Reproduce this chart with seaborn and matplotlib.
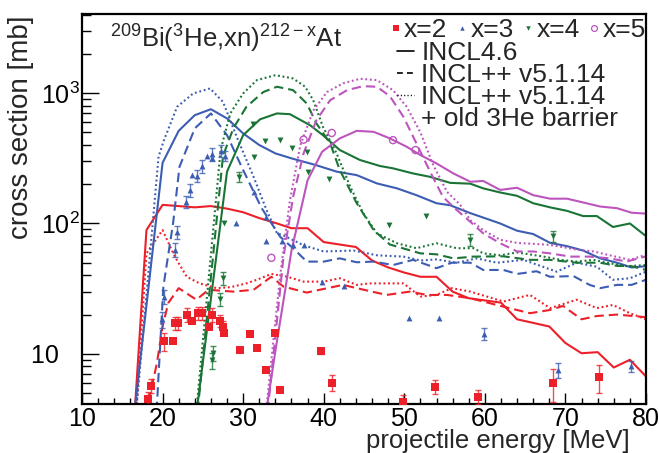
import numpy as np
import pandas as pd
import matplotlib
matplotlib.use("Agg")
import matplotlib.pyplot as plt
import seaborn as sns
from matplotlib.ticker import FixedLocator, FuncFormatter, MultipleLocator, LogLocator, NullFormatter
from matplotlib.lines import Line2D

# ---------------- data ----------------
# model curves: energy [MeV], cross section [mb]
x2_incl46_e = [16.0, 18.0, 20.0, 24.0, 26.0, 28.0, 30.0, 32.0, 34.0, 36.0, 38.0, 40.0, 44.0, 46.0, 48.0,
               50.0, 52.0, 54.0, 56.0, 58.0, 62.0, 64.0, 68.0, 70.0, 72.0, 74.0, 76.0, 78.0, 80.0]
x2_incl46_s = [1.1, 89, 139, 133, 136, 130, 122, 110, 101, 92, 92, 72, 66, 52, 46,
               42, 39, 39, 30, 26.7, 24.7, 18.4, 16.2, 12.1, 10.1, 10.3, 7.85, 9.0, 6.7]
x2_inclpp_e = [17.5, 19.3, 20.0, 20.7, 22.0, 24.2, 25.7, 28.8, 31.3, 33.5, 35.0, 37.9, 39.5, 42.4,
               44.1, 47.8, 50.7, 52.8, 55.3, 58.2, 62.3, 65.6, 68.1, 69.7, 72.0, 73.9, 76.4, 80.0]
x2_inclpp_s = [2.6, 8.5, 16.2, 24.5, 31.9, 26, 31, 30, 31, 39, 32.8, 29.5, 31, 33.8,
               31.9, 28.3, 30, 28.3, 28.3, 26.7, 23, 20.5, 21.7, 23.3, 18.4, 19.5, 20, 19.1]
x2_old_e = [16.4, 18.0, 20.0, 21.5, 23.0, 24.6, 26.7, 28.5, 30.4, 31.7, 33.5, 35.5, 37.5, 40.0, 42.0,
            44.1, 45.7, 49.9, 52.0, 54.0, 55.9, 58.2, 62.3, 65.6, 68.1, 71.4, 73.9, 75.9, 78.0, 80.0]
x2_old_s = [1.7, 59, 89, 56, 39, 34.7, 31.9, 32.5, 34.7, 37, 41, 39, 35.8, 35.8, 38,
            33.8, 34.7, 34.7, 27.5, 28.3, 31.9, 30, 25.2, 28.3, 22.4, 26, 22.4, 23.7, 20.5, 18.4]

x3_incl46_e = [16.0, 20.0, 22.0, 24.0, 26.0, 28.0, 30.0, 32.0, 34.0, 36.0, 39.0, 41.6, 44.1, 46.6, 49.1,
               51.5, 54.0, 55.7, 58.2, 59.8, 61.9, 64.0, 66.0, 68.1, 70.2, 72.2, 74.3, 76.4, 78.2, 80.0]
x3_incl46_s = [1.9, 292, 514, 678, 753, 640, 491, 400, 345, 316, 281, 250, 235, 203, 186,
               165, 143, 138, 120, 111, 100, 88, 83, 71, 67, 62, 54, 50, 46, 47]
x3_inclpp_e = [18.5, 20.1, 21.3, 22.1, 24.0, 26.0, 28.0, 30.0, 32.3, 34.6, 36.2, 37.9, 40.0, 42.0, 44.1, 46.2,
               48.6, 51.1, 54.0, 55.9, 58.2, 59.8, 62.3, 64.0, 66.4, 68.1, 71.0, 73.0, 74.3, 76.4, 78.2, 80.0]
x3_inclpp_s = [0.5, 32.8, 100, 272, 537, 699, 476, 257, 131, 79, 64.6, 51, 51, 54, 50.4, 51,
               48, 52.6, 45.4, 50, 50, 44, 44, 41, 43, 39, 39.5, 33.8, 31.9, 33.8, 33.8, 37]
x3_old_e = [16.3, 19.5, 20.1, 21.8, 23.8, 25.9, 27.5, 29.2, 31.3, 32.9, 34.2, 35.0, 37.5, 40.0, 43.7,
            46.6, 49.9, 52.0, 54.0, 56.5, 59.0, 61.5, 64.8, 68.9, 71.4, 73.9, 75.9, 78.0, 80.0]
x3_old_s = [1.8, 325, 424, 785, 995, 1087, 857, 462, 228, 127, 84, 81, 68, 61, 62,
            57, 55.7, 52, 53, 50, 54, 50, 52.6, 42.7, 50, 46.6, 37, 38, 42.7]

x4_incl46_e = [24.0, 28.0, 30.0, 32.1, 34.2, 35.8, 38.3, 39.9, 42.0, 44.5, 47.0, 48.6, 51.1, 53.2, 55.7,
               58.2, 59.8, 61.9, 64.0, 66.0, 68.1, 70.2, 72.2, 73.9, 75.9, 78.0, 80.0]
x4_incl46_s = [2.8, 250, 476, 630, 699, 690, 568, 476, 366, 307, 276, 265, 242, 228, 205,
               202, 186, 173, 163, 143, 133, 125, 114, 114, 94, 100, 80]
x4_inclpp_e = [24.0, 27.5, 28.8, 30.4, 32.5, 34.2, 36.2, 37.9, 39.1, 40.8, 42.0, 44.1, 46.2, 48.2, 52.0,
               54.0, 56.1, 58.6, 62.3, 65.6, 68.1, 71.4, 74.3, 76.4, 78.2, 80.0]
x4_inclpp_s = [2.2, 330, 540, 785, 1020, 1120, 1055, 833, 586, 411, 257, 143, 89, 69, 59,
               58, 54, 55.7, 56, 52.6, 52.6, 50, 50, 47.3, 47, 44]
x4_old_e = [23.8, 27.2, 28.4, 30.0, 31.7, 34.0, 36.2, 37.7, 38.7, 39.9, 41.6, 43.3, 44.9, 46.6, 49.1,
            51.5, 54.0, 56.5, 58.6, 59.8, 61.9, 64.0, 67.3, 69.4, 71.4, 73.5, 75.1, 77.6, 80.0]
x4_old_s = [2.0, 366, 699, 995, 1259, 1374, 1297, 1120, 883, 552, 345, 191, 120, 84, 70.5,
            64.6, 70.5, 64.6, 64.6, 59, 57, 60, 55.7, 52.6, 51, 52.6, 50, 47, 48]

x5_incl46_e = [32.0, 34.0, 36.0, 38.0, 39.8, 42.0, 44.1, 46.2, 48.2, 50.3, 52.0, 54.0, 56.1, 58.2, 59.8,
               61.9, 64.0, 66.0, 68.1, 70.2, 72.2, 74.3, 76.4, 78.2, 80.0]
x5_incl46_s = [1.6, 10.5, 62, 215, 355, 450, 514, 505, 450, 388, 335, 289, 242, 209, 212,
               181, 188, 165, 155, 155, 145, 135, 131, 121, 119]
x5_inclpp_e = [32.0, 33.2, 35.0, 36.2, 37.5, 39.1, 40.8, 42.9, 44.9, 46.6, 48.2, 49.9, 51.5, 53.2, 54.8,
               56.5, 58.2, 59.8, 61.9, 64.0, 66.0, 68.1, 70.6, 73.0, 75.5, 77.6, 80.0]
x5_inclpp_s = [1.0, 4.5, 55, 160, 345, 621, 883, 1055, 1132, 1120, 950, 658, 412, 250, 160,
               127, 103, 84, 70.5, 61, 61, 59, 55.7, 55.7, 54, 51, 56]
x5_old_e = [32.0, 33.0, 34.6, 35.8, 37.1, 38.7, 40.4, 42.4, 44.5, 46.6, 48.6, 50.3, 52.0, 53.6, 55.3,
            56.9, 58.2, 59.8, 61.9, 64.0, 68.1, 71.4, 73.5, 75.5, 78.0, 80.0]
x5_old_s = [1.0, 4.5, 40, 150, 400, 735, 1020, 1190, 1290, 1259, 1055, 785, 500, 280, 175,
            140, 106, 89, 75, 71, 68.5, 63, 61, 57, 52.6, 57.5]

# experimental data
x2_e = [18.2, 18.6, 20.2, 21.3, 21.5, 21.9, 23.0, 23.6, 24.4, 24.9, 25.8, 26.1, 27.1, 27.5, 27.6,
        29.6, 30.9, 31.7, 32.8, 34.0, 34.6, 39.7, 41.0, 49.9, 53.8, 59.2, 68.5, 74.2]
x2_s = [4.5, 5.7, 12.5, 12.6, 17.2, 17.2, 19.9, 17.7, 20.5, 20.5, 16.2, 19.9, 18.0, 16.2, 14.4,
        10.7, 14.2, 11.1, 7.5, 14.4, 5.3, 10.5, 6.0, 4.3, 5.6, 4.7, 6.0, 6.6]
x2_err = [0.55, 0.7, 1.9, 0, 2.0, 2.0, 2.4, 0, 2.4, 2.4, 0, 2.4, 1.8, 1.6, 0,
          0, 0, 0, 0, 0, 0, 0.5, 0.85, 0.5, 0.65, 0.55, 1.7, 1.6]

x3_e = [19.9, 20.2, 21.5, 21.8, 22.9, 23.4, 23.6, 24.3, 24.9, 25.5, 26.1, 26.1, 27.2, 27.7, 29.1,
        31.3, 32.8, 32.8, 34.8, 36.2, 37.6, 39.8, 42.5, 50.6, 54.3, 59.9, 69.1, 78.1]
x3_s = [18.4, 27.5, 63, 86, 147, 181, 235, 233, 276, 329, 339, 320, 361, 329, 100,
        175, 113, 73.5, 74, 68, 68, 35.8, 33, 18.8, 18.8, 14.2, 7.5, 8.0]
x3_err = [2.5, 3.5, 8, 10, 15, 20, 0, 25, 30, 0, 40, 0, 40, 30, 0,
          0, 0, 0, 0, 0, 0, 0, 0, 0, 0, 1.5, 1.0, 0.8]

x4_e = [26.1, 26.2, 27.1, 27.5, 27.6, 29.5, 31.2, 31.3, 32.7, 34.6, 36.1, 37.9, 38.1, 40.6, 48.1, 52.7, 58.2, 68.4]
x4_s = [8.9, 10.1, 26.3, 38, 100, 228, 575, 325, 430, 441, 381, 355, 250, 218, 98, 115, 75, 80]
x4_err = [1.2, 1.3, 3, 4.5, 0, 20, 0, 0, 0, 0, 0, 0, 0, 0, 0, 0, 8, 8]

x5_e = [33.5, 37.5, 41.0, 48.6, 51.4]
x5_s = [54.5, 440, 495, 436, 366]

channels = ["x=2", "x=3", "x=4", "x=5"]
models = ["INCL4.6", "INCL++ v5.1.14", "INCL++ v5.1.14 + old 3He barrier"]
colors = {"x=2": "#ec2028", "x=3": "#3c5db2", "x=4": "#1a7436", "x=5": "#bc55bd"}

curves = {
    ("x=2", models[0]): (x2_incl46_e, x2_incl46_s),
    ("x=2", models[1]): (x2_inclpp_e, x2_inclpp_s),
    ("x=2", models[2]): (x2_old_e, x2_old_s),
    ("x=3", models[0]): (x3_incl46_e, x3_incl46_s),
    ("x=3", models[1]): (x3_inclpp_e, x3_inclpp_s),
    ("x=3", models[2]): (x3_old_e, x3_old_s),
    ("x=4", models[0]): (x4_incl46_e, x4_incl46_s),
    ("x=4", models[1]): (x4_inclpp_e, x4_inclpp_s),
    ("x=4", models[2]): (x4_old_e, x4_old_s),
    ("x=5", models[0]): (x5_incl46_e, x5_incl46_s),
    ("x=5", models[1]): (x5_inclpp_e, x5_inclpp_s),
    ("x=5", models[2]): (x5_old_e, x5_old_s),
}
rows = []
for (ch, mod), (ee, ss) in curves.items():
    for a, b in zip(ee, ss):
        rows.append((ch, mod, a, b))
df = pd.DataFrame(rows, columns=["channel", "model", "energy", "xs"])

# ---------------- style ----------------
sns.set_theme(style="ticks")
plt.rcParams["font.family"] = ["Liberation Sans", "DejaVu Sans"]
plt.rcParams["mathtext.fontset"] = "custom"
plt.rcParams["mathtext.rm"] = "Liberation Sans"
plt.rcParams["mathtext.it"] = "Liberation Sans"
plt.rcParams["mathtext.default"] = "regular"
plt.rcParams["axes.linewidth"] = 1.6
plt.rcParams["axes.edgecolor"] = "black"

fig = plt.figure(figsize=(6.59, 4.53), dpi=100)
fig.patch.set_facecolor("white")
ax = fig.add_axes([82 / 659, 1 - 404 / 453, 564 / 659, 390 / 453])
ax.set_facecolor("white")

dash_map = {models[0]: "", models[1]: (4.5, 2.4), models[2]: (0.9, 1.3)}
sns.lineplot(data=df, x="energy", y="xs", hue="channel", style="model",
             palette=colors, dashes=dash_map, estimator=None, sort=False,
             linewidth=1.5, legend=False, ax=ax, zorder=2)


def draw_errors(e, s, err, col):
    e, s, err = np.asarray(e), np.asarray(s), np.asarray(err)
    m = err > 0
    ax.errorbar(e[m], s[m], yerr=err[m], fmt="none", ecolor=col, elinewidth=1.0,
                capsize=2.5, capthick=1.0, alpha=0.8, zorder=3)


draw_errors(x2_e, x2_s, x2_err, colors["x=2"])
draw_errors(x3_e, x3_s, x3_err, colors["x=3"])
draw_errors(x4_e, x4_s, x4_err, colors["x=4"])
sns.scatterplot(x=x2_e, y=x2_s, marker="s", s=26, color=colors["x=2"], linewidth=0, ax=ax, zorder=4)
sns.scatterplot(x=x3_e, y=x3_s, marker="^", s=18, color=colors["x=3"], linewidth=0, ax=ax, zorder=4)
sns.scatterplot(x=x4_e, y=x4_s, marker="v", s=18, color=colors["x=4"], linewidth=0, ax=ax, zorder=4)
sns.scatterplot(x=x5_e, y=x5_s, marker="o", s=26, facecolor="none", edgecolor=colors["x=5"], linewidth=1.0, ax=ax, zorder=4)

# axes
ax.set_yscale("log")
ax.set_xlim(10, 80)
ax.set_ylim(4.12, 4050)
ax.xaxis.set_major_locator(MultipleLocator(10))
ax.xaxis.set_minor_locator(MultipleLocator(2))
ax.yaxis.set_major_locator(FixedLocator([10, 100, 1000]))
ax.yaxis.set_major_formatter(FuncFormatter(
    lambda v, p: {10: "10   ", 100: "10$^{2}$", 1000: "10$^{3}$"}.get(int(round(v)), "")))
ax.yaxis.set_minor_locator(LogLocator(base=10, subs=np.arange(2, 10), numticks=30))
ax.yaxis.set_minor_formatter(NullFormatter())

ax.tick_params(axis="both", which="both", direction="in", top=False, right=False,
               bottom=True, left=True, color="black", width=1.0, labelcolor="black")
ax.tick_params(axis="y", which="major", length=12, pad=1.5, labelsize=18)
ax.tick_params(axis="y", which="minor", length=6.5)
ax.tick_params(axis="x", which="major", length=8, pad=2.0, labelsize=18)
ax.tick_params(axis="x", which="minor", length=4)
for sp in ax.spines.values():
    sp.set_visible(True)
    sp.set_linewidth(1.6)
    sp.set_color("black")

ax.set_xlabel("projectile energy [MeV]", fontsize=18.5, ha="right", va="baseline")
ax.xaxis.set_label_coords(0.9716, -0.114)
ax.set_ylabel("cross section [mb]", fontsize=20, ha="right", va="bottom")
ax.yaxis.set_label_coords(-0.085, 0.997)

ax.text(0.05, 0.913, r"$^{209}$Bi($^{3}$He,xn)$^{212-x}$At", transform=ax.transAxes,
        fontsize=18.5, ha="left", va="baseline")

# legends
h1 = [Line2D([], [], ls="none", marker="s", ms=4.2, color=colors["x=2"], mew=0),
      Line2D([], [], ls="none", marker="^", ms=3.2, color=colors["x=3"], mew=0),
      Line2D([], [], ls="none", marker="v", ms=3.2, color=colors["x=4"], mew=0),
      Line2D([], [], ls="none", marker="o", ms=4.2, mfc="none", mec=colors["x=5"], mew=0.9)]
leg1 = ax.legend(h1, channels, ncol=4, loc="upper right", bbox_to_anchor=(1.0, 0.99),
                 frameon=False, fontsize=19, handlelength=0.4, handletextpad=0.12,
                 columnspacing=0.35, borderpad=0, borderaxespad=0)
ax.add_artist(leg1)
h2 = [Line2D([], [], color="black", lw=1.2),
      Line2D([], [], color="black", lw=1.2, dashes=(3.5, 2.5)),
      Line2D([], [], color="black", lw=1.0, dashes=(0.8, 1.6)),
      Line2D([], [], color="none")]
leg2 = ax.legend(h2, ["INCL4.6", "INCL++ v5.1.14", "INCL++ v5.1.14", "+ old 3He barrier"],
                 loc="upper left", bbox_to_anchor=(0.5585, 0.93), frameon=False, fontsize=19,
                 handlelength=0.65, handletextpad=0.27, labelspacing=-0.08, borderpad=0, borderaxespad=0)

fig.savefig("out.png", dpi=100, facecolor="white")
